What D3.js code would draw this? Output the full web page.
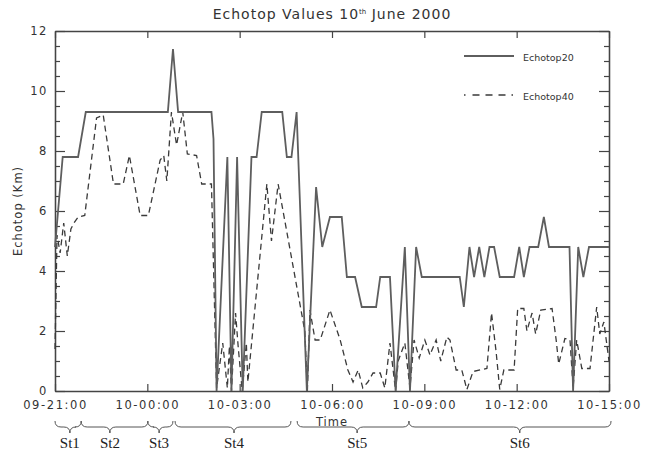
<!DOCTYPE html>
<html>
<head>
<meta charset="utf-8">
<script src="https://cdn.jsdelivr.net/npm/d3@7/dist/d3.min.js"></script>
<style>
  html, body { margin: 0; padding: 0; background: #fff; }
  svg { display: block; }
</style>
</head>
<body>
<svg id="chart" width="647" height="453"></svg>
<script>
// ---------------- DATA ----------------
const chartTitle = "Echotop Values 10";
const seriesNames = ["Echotop20", "Echotop40"];
const xTickLabels = ["09-21:00", "10-00:00", "10-03:00", "10-06:00", "10-09:00", "10-12:00", "10-15:00"];
const yMajorTicks = [0, 2, 4, 6, 8, 10, 12];

// minutes after 09-21:00 (9 June 2000) and echotop heights (km)
const echo20Minutes = [0, 15, 45, 60, 220, 230, 240, 305, 309, 315, 336, 344, 355, 366, 383, 393, 403, 443, 452, 461, 471, 491, 509, 521, 536, 559, 569, 585, 598, 626, 634, 653, 664, 682, 692, 704, 715, 789, 797, 808, 817, 827, 837, 847, 856, 867, 895, 905, 914, 925, 942, 953, 963, 1003, 1010, 1020, 1030, 1041, 1080];
const echo20Values  = [4.8, 7.8, 7.8, 9.3, 9.3, 11.4, 9.3, 9.3, 8.4, 0, 7.8, 0, 7.8, 0, 7.8, 7.8, 9.3, 9.3, 7.8, 7.8, 9.3, 0, 6.8, 4.8, 5.8, 5.8, 3.8, 3.8, 2.8, 2.8, 3.8, 3.8, 0, 4.8, 0, 4.8, 3.8, 3.8, 2.8, 4.8, 3.8, 4.8, 3.8, 4.8, 4.8, 3.8, 3.8, 4.8, 3.8, 4.8, 4.8, 5.8, 4.8, 4.8, 0, 4.8, 3.8, 4.8, 4.8];

const echo40Minutes = [0, 4, 10, 17, 24, 31, 37, 45, 58, 81, 94, 114, 133, 145, 166, 182, 205, 212, 218, 227, 237, 249, 258, 276, 286, 305, 315, 327, 336, 340, 344, 352, 357, 365, 373, 376, 413, 422, 435, 487, 492, 497, 507, 517, 536, 556, 571, 581, 591, 600, 610, 620, 634, 643, 653, 664, 669, 682, 692, 700, 710, 721, 731, 743, 752, 764, 770, 782, 793, 803, 815, 842, 851, 860, 867, 875, 895, 902, 914, 920, 930, 937, 947, 969, 977, 982, 994, 1004, 1010, 1017, 1027, 1043, 1056, 1062, 1070, 1080];
const echo40Values  = [1.4, 5.2, 4.6, 5.6, 4.5, 5.4, 5.6, 5.8, 5.85, 9.1, 9.2, 6.9, 6.9, 7.85, 5.85, 5.85, 7.7, 7.85, 7.0, 9.3, 8.2, 9.3, 7.9, 7.85, 6.9, 6.9, 0.1, 1.6, 0.1, 1.5, 0.0, 2.6, 1.5, 0.0, 1.6, 0.3, 6.9, 5.0, 6.9, 2.0, 0.0, 2.7, 1.7, 1.7, 2.7, 1.7, 0.7, 0.3, 0.7, 0.1, 0.3, 0.6, 0.6, 0.1, 1.6, 0.0, 1.0, 1.6, 0.1, 1.7, 1.1, 1.7, 1.2, 1.7, 1.0, 1.8, 1.7, 0.7, 0.7, 0.05, 0.65, 0.75, 2.6, 1.3, 0.05, 0.7, 0.7, 2.75, 2.75, 2.0, 2.6, 1.9, 2.7, 2.75, 1.7, 0.9, 1.75, 1.7, 0.1, 1.7, 0.75, 0.75, 2.8, 1.9, 2.3, 1.0];

// storm stages: labels, time spans and brace tip (minutes after 09-21:00)
const stageLabels = ["St1", "St2", "St3", "St4", "St5", "St6"];
const stageStart  = [0, 51, 181, 234, 472, 690];
const stageEnd    = [51, 181, 230, 460, 690, 1084];
const stageMid    = [29, 107, 203, 349, 589, 906];

// ---------------- CHART ----------------
(function () {
const startDate = new Date(2000, 5, 9, 21, 0);
const toDate = m => d3.timeMinute.offset(startDate, m);
const parseTick = s => { const [d, hm] = s.split("-"); const [h, mi] = hm.split(":"); return new Date(2000, 5, +d, +h, +mi); };
const xTicks = xTickLabels.map(parseTick);

const svg = d3.select("#chart");
const pL = 55, pR = 609, pT = 31, pB = 391;

const x = d3.scaleTime().domain([xTicks[0], xTicks[xTicks.length - 1]]).range([pL, pR]);
const y = d3.scaleLinear().domain([0, 12]).range([pB, pT]);

const axisColor = "#444";
const font = "'DejaVu Sans', Verdana, sans-serif";

const yMinor = d3.range(0, 12.01, 0.5).filter(v => v % 2 !== 0);

function styleAxis(g) {
  g.selectAll("path.domain").attr("stroke", axisColor).attr("stroke-width", 1.3);
  g.selectAll(".tick line").attr("stroke", axisColor).attr("stroke-width", 1.2);
  g.selectAll(".tick text").attr("fill", "#333").style("font-family", font)
    .style("font-size", "11.5px").style("letter-spacing", "1.6px");
}

svg.append("g").attr("transform", `translate(0,${pB})`)
  .call(d3.axisBottom(x).tickValues(xTicks).tickFormat(d3.timeFormat("%d-%H:%M")).tickSizeInner(-7).tickSizeOuter(0).tickPadding(10))
  .call(styleAxis);
svg.append("g").attr("transform", `translate(0,${pT})`)
  .call(d3.axisTop(x).tickValues(xTicks).tickFormat("").tickSizeInner(-7).tickSizeOuter(0))
  .call(styleAxis);
svg.append("g").attr("transform", `translate(${pL},0)`)
  .call(d3.axisLeft(y).tickValues(yMajorTicks).tickFormat(d3.format("d")).tickSizeInner(-10).tickSizeOuter(0).tickPadding(7))
  .call(styleAxis);
svg.append("g").attr("transform", `translate(${pL},0)`)
  .call(d3.axisLeft(y).tickValues(yMinor).tickFormat("").tickSizeInner(-5).tickSizeOuter(0))
  .call(styleAxis);
svg.append("g").attr("transform", `translate(${pR},0)`)
  .call(d3.axisRight(y).tickValues(yMajorTicks).tickFormat("").tickSizeInner(-10).tickSizeOuter(0))
  .call(styleAxis);
svg.append("g").attr("transform", `translate(${pR},0)`)
  .call(d3.axisRight(y).tickValues(yMinor).tickFormat("").tickSizeInner(-5).tickSizeOuter(0))
  .call(styleAxis);

const line = d3.line().x(d => x(toDate(d.m))).y(d => y(d.v));
const s20 = echo20Minutes.map((m, i) => ({ m, v: echo20Values[i] }));
const s40 = echo40Minutes.map((m, i) => ({ m, v: echo40Values[i] }));

svg.append("path").datum(s40).attr("d", line)
  .attr("fill", "none").attr("stroke", "#3a3a3a").attr("stroke-width", 1.3)
  .attr("stroke-dasharray", "6,4");
svg.append("path").datum(s20).attr("d", line)
  .attr("fill", "none").attr("stroke", "#5e5e5e").attr("stroke-width", 1.8)
  .attr("stroke-linejoin", "miter");

const legend = svg.append("g");
legend.append("line").attr("x1", 464).attr("x2", 514).attr("y1", 56).attr("y2", 56)
  .attr("stroke", "#5e5e5e").attr("stroke-width", 1.8);
legend.append("text").attr("x", 523).attr("y", 61).text(seriesNames[0])
  .style("font-family", font).style("font-size", "9.5px").attr("fill", "#333");
legend.append("line").attr("x1", 464).attr("x2", 514).attr("y1", 95).attr("y2", 95)
  .attr("stroke", "#3a3a3a").attr("stroke-width", 1.3).attr("stroke-dasharray", "1.5,7,7,6,7,6,7,6");
legend.append("text").attr("x", 523).attr("y", 100).text(seriesNames[1])
  .style("font-family", font).style("font-size", "9.5px").attr("fill", "#333");

const title = svg.append("text").attr("x", (pL + pR) / 2).attr("y", 19)
  .attr("text-anchor", "middle").style("font-family", font).style("font-size", "14px")
  .style("letter-spacing", "1px").attr("fill", "#333");
title.append("tspan").text(chartTitle);
title.append("tspan").text("th").attr("dy", -5).style("font-size", "7px").style("letter-spacing", "0px");
title.append("tspan").text(" June 2000").attr("dy", 5);

svg.append("text").attr("transform", `translate(22,${(pT + pB) / 2}) rotate(-90)`)
  .attr("text-anchor", "middle").text("Echotop (Km)")
  .style("font-family", font).style("font-size", "11.5px").style("letter-spacing", "1px").attr("fill", "#333");
svg.append("text").attr("x", (pL + pR) / 2).attr("y", 426)
  .attr("text-anchor", "middle").text("Time")
  .style("font-family", font).style("font-size", "11.5px").style("letter-spacing", "1px").attr("fill", "#333");

function brace(x1, x2, xm, y0, h) {
  const r = Math.min(6, (x2 - x1) / 4);
  const ym = y0 + h / 2;
  return `M${x1},${y0} Q${x1},${ym} ${x1 + r},${ym} L${xm - r},${ym} Q${xm},${ym} ${xm},${y0 + h} ` +
         `Q${xm},${ym} ${xm + r},${ym} L${x2 - r},${ym} Q${x2},${ym} ${x2},${y0}`;
}
const stages = stageLabels.map((s, i) => ({
  s, a: x(toDate(stageStart[i])), b: x(toDate(stageEnd[i])), c: x(toDate(stageMid[i]))
}));
svg.selectAll("path.brace").data(stages).enter().append("path").attr("class", "brace")
  .attr("d", d => brace(d.a, d.b, d.c, 421, 12))
  .attr("fill", "none").attr("stroke", "#555").attr("stroke-width", 1);
svg.selectAll("text.stage").data(stages).enter().append("text").attr("class", "stage")
  .attr("x", d => d.c).attr("y", 448).attr("text-anchor", "middle")
  .text(d => d.s).style("font-family", "'Liberation Serif', 'Times New Roman', serif")
  .style("font-size", "15px").attr("fill", "#222");
})();
</script>
</body>
</html>
